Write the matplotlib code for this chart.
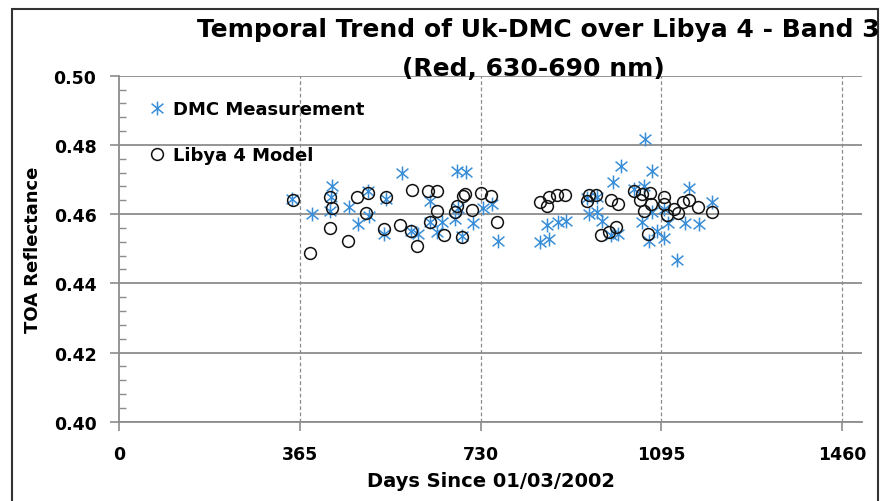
import matplotlib
matplotlib.use("Agg")
import matplotlib.pyplot as plt
from matplotlib.path import Path
from matplotlib.patches import Rectangle
from matplotlib.ticker import MultipleLocator

plt.rcParams["font.family"] = ["DejaVu Sans"]
plt.rcParams["font.weight"] = "bold"

# --- values ------------------------------------------------------------------
dmc_days = [348, 389, 429, 427, 426, 463, 483, 502, 504, 539, 534, 571, 589, 604,
            628, 628, 641, 651, 678, 682, 685, 692, 701, 714, 734, 752, 764,
            850, 863, 868, 886, 902, 944, 948, 965, 965, 975, 993, 997, 1008,
            1013, 1039, 1056, 1059, 1061, 1069, 1076, 1076, 1086, 1101, 1101,
            1108, 1126, 1143, 1150, 1170, 1198]
dmc_refl = [0.4645, 0.4600, 0.4682, 0.4648, 0.4610, 0.4620, 0.4571, 0.4668, 0.4595,
            0.4644, 0.4543, 0.4719, 0.4552, 0.4543, 0.4639, 0.4576, 0.4547, 0.4576,
            0.4586, 0.4726, 0.4617, 0.4538, 0.4723, 0.4574, 0.4617, 0.4629, 0.4523,
            0.4520, 0.4569, 0.4528, 0.4578, 0.4581, 0.4646, 0.4600, 0.4648, 0.4607,
            0.4581, 0.4540, 0.4694, 0.4543, 0.4738, 0.4672, 0.4576, 0.4682, 0.4817,
            0.4521, 0.4725, 0.4605, 0.4552, 0.4615, 0.4531, 0.4573, 0.4467, 0.4573,
            0.4675, 0.4571, 0.4634]

model_days = [350, 385, 425, 429, 425, 462, 481, 502, 499, 539, 534, 566, 591, 589,
              602, 624, 641, 642, 628, 655, 678, 683, 695, 699, 692, 712, 730, 750,
              763, 849, 864, 867, 884, 901, 944, 948, 963, 993, 1008, 972, 990, 1003,
              1039, 1056, 1052, 1072, 1074, 1059, 1101, 1101, 1106, 1120, 1128, 1139,
              1150, 1168, 1197, 1067]
model_refl = [0.4642, 0.4487, 0.4650, 0.4617, 0.4560, 0.4521, 0.4650, 0.4660, 0.4602,
              0.4648, 0.4557, 0.4568, 0.4671, 0.4552, 0.4509, 0.4666, 0.4666, 0.4610,
              0.4576, 0.4540, 0.4605, 0.4622, 0.4653, 0.4658, 0.4533, 0.4613, 0.4660,
              0.4651, 0.4576, 0.4636, 0.4624, 0.4648, 0.4655, 0.4655, 0.4639, 0.4655,
              0.4655, 0.4642, 0.4629, 0.4540, 0.4547, 0.4562, 0.4668, 0.4658, 0.4641,
              0.4660, 0.4629, 0.4608, 0.4650, 0.4629, 0.4598, 0.4615, 0.4602, 0.4634,
              0.4641, 0.4620, 0.4605, 0.4543]

x_ticks = [0, 365, 730, 1095, 1460]
y_ticks = [0.40, 0.42, 0.44, 0.46, 0.48, 0.50]

# Excel-style star marker: vertical stroke plus an X
star = Path([(0, -1), (0, 1), (-0.85, -0.7), (0.85, 0.7), (-0.85, 0.7), (0.85, -0.7)],
            [Path.MOVETO, Path.LINETO] * 3)

fig = plt.figure(figsize=(8.81, 5.02), dpi=100)
ax = fig.add_axes([119.3 / 881, 79.3 / 502, 742.7 / 881, 346 / 502])

ax.plot(dmc_days, dmc_refl, linestyle="none", marker=star, markersize=10,
        markeredgecolor="#3A8ED8", markeredgewidth=1.1, label="DMC Measurement")
ax.plot(model_days, model_refl, linestyle="none", marker="o", markersize=8.5,
        markerfacecolor="none", markeredgecolor="#111111", markeredgewidth=1.1,
        label="Libya 4 Model")

ax.set_xlim(0, 1500)
ax.set_ylim(0.40, 0.50)
ax.set_xticks(x_ticks)
ax.set_yticks(y_ticks)
ax.set_yticklabels([f"{v:.2f}" for v in y_ticks])
ax.yaxis.set_minor_locator(MultipleLocator(0.004))

grey = "#8c8c8c"
for y in y_ticks:
    ax.axhline(y, color=grey, linewidth=1.3, zorder=0)
for x in x_ticks[1:]:
    ax.axvline(x, color=grey, linewidth=0.9, linestyle=(0, (3, 2)), zorder=0)

for side in ("top", "right"):
    ax.spines[side].set_visible(False)
for side in ("left", "bottom"):
    ax.spines[side].set_color(grey)
    ax.spines[side].set_linewidth(1.3)

ax.tick_params(axis="both", which="major", direction="out", length=6.5, width=1.2,
               color=grey, labelsize=12.5, pad=10)
ax.tick_params(axis="y", which="minor", direction="in", length=5, width=1.0, color=grey)
ax.tick_params(axis="x", which="minor", length=0)

ax.set_xlabel("Days Since 01/03/2002", fontsize=14, fontweight="bold", labelpad=6)
ax.set_ylabel("TOA Reflectance", fontsize=13, fontweight="bold", labelpad=8)

ax.legend(loc="upper left", bbox_to_anchor=(0.038, 0.93), frameon=False,
          fontsize=13, handlelength=1.0, handletextpad=0.4, labelspacing=1.55,
          borderpad=0, borderaxespad=0)

fig.text(538 / 881, 1 - 37.3 / 502, "Temporal Trend of Uk-DMC over Libya 4 - Band 3",
         ha="center", va="baseline", fontsize=18, fontweight="bold")
fig.text(533 / 881, 1 - 76 / 502, "(Red, 630-690 nm)",
         ha="center", va="baseline", fontsize=18, fontweight="bold")

# dark frame around the chart area, open at the bottom edge of the picture
fig.patches.append(Rectangle((12 / 881, -0.05), 866 / 881, 1.05 - 9.5 / 502,
                             transform=fig.transFigure, fill=False,
                             edgecolor="#333333", linewidth=1.5))

fig.savefig("out.png", dpi=100)
